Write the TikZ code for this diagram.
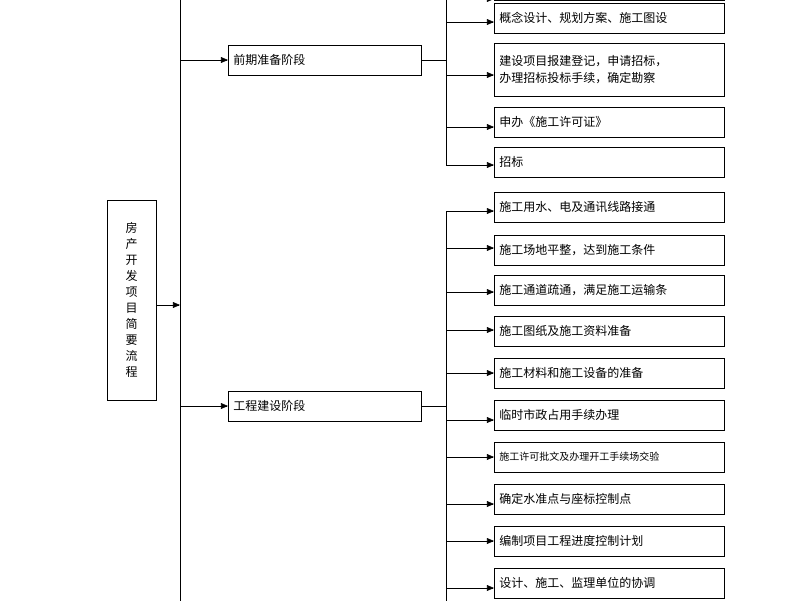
\documentclass[tikz,border=0pt]{standalone}
\usepackage{fontspec}
\setmainfont{Noto Sans CJK SC}
\usetikzlibrary{positioning}
\usetikzlibrary{arrows}
\begin{document}
\begin{tikzpicture}[
            x = 1pt, y = -1pt,
            > = triangle 45, % arrow head style
            semithick, % line style
            font = \fontsize{12}{17}\selectfont
        ]

        \tikzstyle{task}=[
            draw, thick,
            minimum width = 230pt,
            minimum height = 30pt,
            text width = 220pt,
            align = left,
            anchor = west
        ]
        \tikzstyle{phase}=[task, minimum width = 193pt, text width = 183pt]

        \useasboundingbox (0,0) rectangle (800,600);
        \clip (0,0) rectangle (800,600);

        % root
        \node[draw, thick, minimum width = 49pt, minimum height = 200pt, text width = 12pt, align = center, font = \fontsize{12}{16}\selectfont] (R) at (131.5,300) {房\\产\\开\\发\\项\\目\\简\\要\\流\\程};
        \coordinate (T) at (180,-10);
        \coordinate (B) at (180,610);
        \draw (T) -- (B);
        \draw[->] (R.east |- 0,305) -- (180,305);

        % phases
        \node[phase] (P1) at (228,60) {前期准备阶段};
        \node[phase] (P2) at (228,406) {工程建设阶段};
        \draw[->] (P1 -| T) -- (P1);
        \draw[->] (P2 -| T) -- (P2);

        % preparation tasks
        \node[task] (A0) at (494,-15) {};
        \node[task] (A1) at (494,18) {概念设计、规划方案、施工图设};
        \node[task, minimum height = 53pt] (A2) at (494,69.5) {建设项目报建登记，申请招标，\\办理招标投标手续，确定勘察};
        \node[task] (A3) at (494,122) {申办《施工许可证》};
        \node[task] (A4) at (494,162) {招标};
        \coordinate (J1) at (446,-10);
        \draw (P1) -- (P1 -| J1);
        \draw (J1) -- (446,165);
        \foreach \y/\n in {-1/A0, 22/A1, 75/A2, 127/A3, 165/A4}
            \draw[->] (446,\y) -- (\n.west |- 0,\y);

        % construction tasks
        \node[task] (B1) at (494,207) {施工用水、电及通讯线路接通};
        \node[task] (B2) at (494,250) {施工场地平整，达到施工条件};
        \node[task] (B3) at (494,290) {施工通道疏通，满足施工运输条};
        \node[task] (B4) at (494,331) {施工图纸及施工资料准备};
        \node[task] (B5) at (494,373) {施工材料和施工设备的准备};
        \node[task] (B6) at (494,415) {临时市政占用手续办理};
        \node[task, font = \fontsize{10}{12}\selectfont] (B7) at (494,457) {施工许可批文及办理开工手续场交验};
        \node[task] (B8) at (494,499) {确定水准点与座标控制点};
        \node[task] (B9) at (494,541) {编制项目工程进度控制计划};
        \node[task] (B10) at (494,583) {设计、施工、监理单位的协调};
        \coordinate (J2) at (446,211);
        \draw (P2) -- (P2 -| J2);
        \draw (J2) -- (446,610);
        \foreach \y/\n in {211/B1, 248/B2, 292/B3, 330/B4, 373/B5, 420/B6, 457/B7, 504/B8, 541/B9, 588/B10}
            \draw[->] (446,\y) -- (\n.west |- 0,\y);

  \end{tikzpicture}
\end{document}
